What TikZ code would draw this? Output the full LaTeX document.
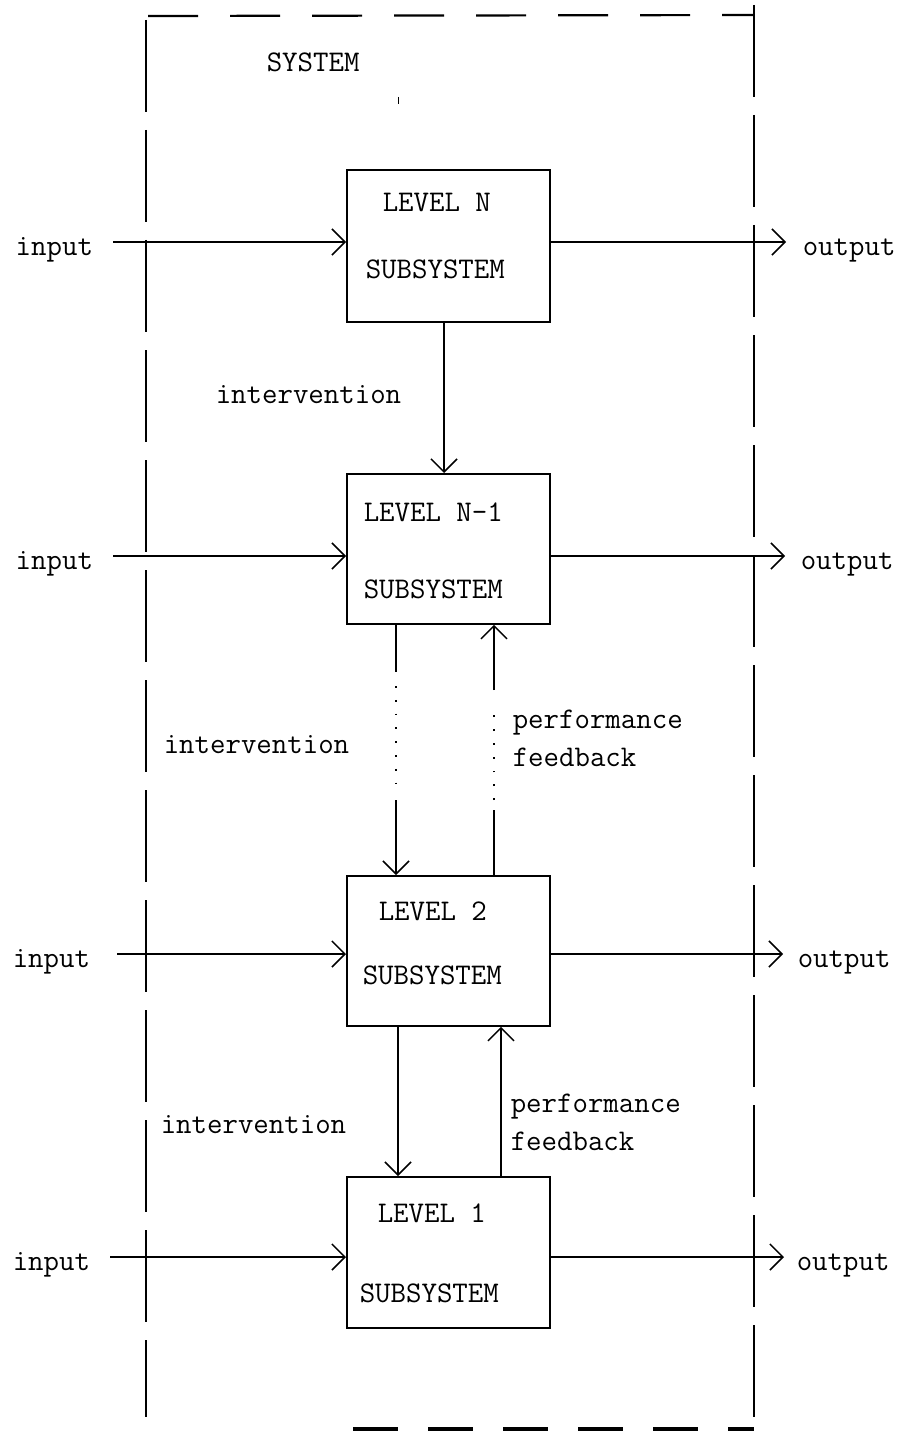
\documentclass[tikz,border=0pt]{standalone}
\usepackage{fontspec}
\usetikzlibrary{arrows.meta}
\begin{document}
\begin{tikzpicture}[x=1pt,y=-1pt,
  line width=1.5pt,
  lbl/.style={font=\ttfamily\fontsize{30}{32}\selectfont, inner sep=0pt, anchor=base west},
  captext/.style={font=\ttfamily\fontsize{30}{32}\selectfont, inner sep=0pt, anchor=base west},
  subbox/.style={draw, line width=1.8pt, inner sep=0pt, anchor=north west},
  arr/.style={-{Straight Barb[length=13pt,width=26pt,line width=1.5pt]}},
  framev/.style={line width=1.3pt, dash pattern=on 92pt off 18pt},
  frameh/.style={line width=2.2pt, dash pattern=on 50pt off 32pt},
  frameb/.style={line width=3.5pt, dash pattern=on 45pt off 30pt},
  dotline/.style={line width=1.8pt, dash pattern=on 1.8pt off 12pt}]
\useasboundingbox (0,0) rectangle (904,1431);
\fill[white] (0,0) rectangle (904,1431);

% system frame
\coordinate (fTL) at (146,20);
\coordinate (fTR) at (754,5);
\coordinate (fBL) at (146,1417);
\coordinate (fBR) at (754,1431);
\draw[framev] (fTL) -- (fBL);
\draw[framev] (fTR) -- (fBR);
\draw[frameh] (148,16) -- (754,15);
\draw[frameb] (353,1429) -- (754,1429);
\node[captext] (sys) at (266,72) {SYSTEM};
\draw[line width=1pt] (398,97) -- (398,104);

% boxes
\node[subbox, minimum width=203pt, minimum height=152pt] (bN) at (346,169) {};
\node[subbox, minimum width=203pt, minimum height=150pt] (bN1) at (346,473) {};
\node[subbox, minimum width=203pt, minimum height=150pt] (b2) at (346,875) {};
\node[subbox, minimum width=203pt, minimum height=151pt] (b1) at (346,1176) {};

% box texts
\node[captext] (tN1) at (382,212) {LEVEL N};
\node[captext] (tN2) at (365,278) {SUBSYSTEM};
\node[captext] (tM1) at (363,521) {LEVEL N-1};
\node[captext] (tM2) at (363,598) {SUBSYSTEM};
\node[captext] (t21) at (378,920) {LEVEL 2};
\node[captext] (t22) at (362,984) {SUBSYSTEM};
\node[captext] (t11) at (377,1222) {LEVEL 1};
\node[captext] (t12) at (359,1302) {SUBSYSTEM};

% inputs
\node[lbl] (iN) at (15,255) {input};
\node[lbl] (iN1) at (15,569) {input};
\node[lbl] (i2) at (12,967) {input};
\node[lbl] (i1) at (12,1270) {input};
\coordinate (aN) at (113,242);
\coordinate (aN1) at (113,556);
\coordinate (a2) at (117,954);
\coordinate (a1) at (110,1257);
\draw[arr] (aN) -- (aN -| bN.west);
\draw[arr] (aN1) -- (aN1 -| bN1.west);
\draw[arr] (a2) -- (a2 -| b2.west);
\draw[arr] (a1) -- (a1 -| b1.west);

% outputs
\node[lbl] (oN) at (802,255) {output};
\node[lbl] (oN1) at (800,569) {output};
\node[lbl] (o2) at (797,967) {output};
\node[lbl] (o1) at (796,1270) {output};
\coordinate (eN) at (786,242);
\coordinate (eN1) at (785,556);
\coordinate (e2) at (783,954);
\coordinate (e1) at (784,1257);
\draw[arr] (eN -| bN.east) -- (eN);
\draw[arr] (eN1 -| bN1.east) -- (eN1);
\draw[arr] (e2 -| b2.east) -- (e2);
\draw[arr] (e1 -| b1.east) -- (e1);

% N -> N-1 intervention
\coordinate (vN) at (444,0);
\draw[arr] (bN.south -| vN) -- (bN1.north -| vN);
\node[lbl] (int1) at (215,403) {intervention};

% N-1 <-> 2
\coordinate (v1) at (396,0);
\coordinate (v1a) at (396,672);
\coordinate (v1b) at (396,800);
\draw (bN1.south -| v1) -- (v1a);
\draw[dotline] (396,686) -- (396,790);
\draw[arr] (v1b) -- (b2.north -| v1);
\node[lbl] (int2) at (163,753) {intervention};

\coordinate (v2) at (494,0);
\coordinate (v2a) at (494,810);
\coordinate (v2b) at (494,690);
\draw (b2.north -| v2) -- (v2a);
\draw[dotline] (494,800) -- (494,704);
\draw[arr] (v2b) -- (bN1.south -| v2);
\node[lbl] (pf1) at (512,728) {performance};
\node[lbl] (fb1) at (512,766) {feedback};

% 2 <-> 1
\coordinate (v3) at (398,0);
\draw[arr] (b2.south -| v3) -- (b1.north -| v3);
\node[lbl] (int3) at (160,1133) {intervention};
\coordinate (v4) at (501,0);
\draw[arr] (b1.north -| v4) -- (b2.south -| v4);
\node[lbl] (pf2) at (510,1112) {performance};
\node[lbl] (fb2) at (510,1150) {feedback};
\end{tikzpicture}
\end{document}
